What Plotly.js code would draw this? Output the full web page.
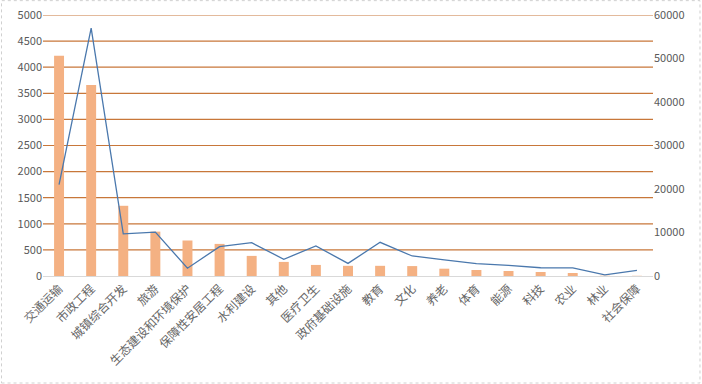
<!DOCTYPE html>
<html>
<head>
<meta charset="utf-8">
<script src="https://cdn.plot.ly/plotly-3.0.1.min.js"></script>
<style>html,body{margin:0;padding:0;background:#fff;}#chart{width:702px;height:384px;}</style>
</head>
<body>
<div id="chart"></div>
<script>
const categories = ["交通运输","市政工程","城镇综合开发","旅游","生态建设和环境保护","保障性安居工程","水利建设","其他","医疗卫生","政府基础设施","教育","文化","养老","体育","能源","科技","农业","林业","社会保障"];
const barValues = [4220, 3660, 1345, 850, 680, 615, 385, 270, 212, 195, 195, 190, 140, 115, 96, 77, 57, 6, 4];
const lineValues = [21000, 57000, 9700, 10100, 1800, 6750, 7650, 3850, 6900, 2900, 7750, 4600, 3700, 2850, 2450, 1900, 1850, 250, 1300];
const leftTicks = [0,500,1000,1500,2000,2500,3000,3500,4000,4500,5000];
const rightTicks = [0,10000,20000,30000,40000,50000,60000];

const font = "'Noto Sans CJK SC', 'Microsoft YaHei', sans-serif";
const gridColor = '#c8773a';

const traces = [
  {type:'bar', x:categories, y:barValues, marker:{color:'#f4b183'}, yaxis:'y'},
  {type:'scatter', mode:'lines', x:categories, y:lineValues, yaxis:'y2', line:{color:'#4a78ad', width:1.3}}
];

const gridShapes = leftTicks.filter(v => v > 0).map(v => ({
  type:'line', xref:'paper', yref:'y', x0:0, x1:1, y0:v, y1:v, layer:'below',
  line:{color:gridColor, width:1.2}
}));

const layout = {
  width:702, height:384,
  margin:{l:43, r:49, t:15, b:108},
  paper_bgcolor:'#fff', plot_bgcolor:'rgba(0,0,0,0)',
  showlegend:false,
  bargap:0.69,
  font:{family:font, color:'#595959', size:11},
  xaxis:{tickangle:-45, showgrid:false, showline:true, linecolor:'#d9d9d9', linewidth:1, ticks:'', tickfont:{size:12, color:'#666666'}, zeroline:false},
  yaxis:{range:[0,5000], tickvals:leftTicks, showgrid:false, zeroline:false, showline:false, ticks:'', tickfont:{size:11,color:'#595959'}},
  yaxis2:{range:[0,60000], tickvals:rightTicks, tickformat:'d', overlaying:'y', side:'right', showgrid:false, zeroline:false, showline:false, ticks:'', tickfont:{size:11,color:'#595959'}},
  shapes:gridShapes.concat([{type:'rect', xref:'paper', yref:'paper', x0:-0.068, x1:1.077, y0:-0.41, y1:1.055, line:{color:'#d0d0d0', width:1, dash:'dot'}}])
};

Plotly.newPlot('chart', traces, layout, {displayModeBar:false, staticPlot:true});
</script>
</body>
</html>
